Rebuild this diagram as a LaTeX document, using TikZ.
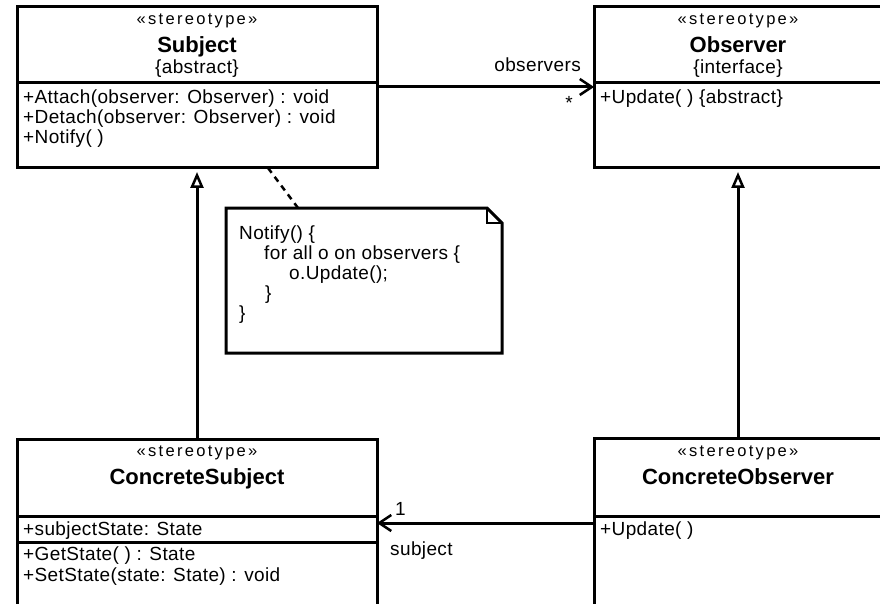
\documentclass[tikz,border=0pt]{standalone}
\usepackage{fontspec}
\setmainfont[LetterSpace=2]{Liberation Sans}
\newfontfamily\titlefont{Liberation Sans}
\newfontfamily\stereofont[LetterSpace=14]{Liberation Sans}
\usetikzlibrary{arrows.meta}

\tikzset{
  umlbox/.style={draw, line width=3pt, inner sep=0pt, outer sep=0pt, anchor=north west},
  sepline/.style={line width=3pt},
  stereo/.style={anchor=base, inner sep=0pt, font=\stereofont\fontsize{16.5}{18}\selectfont},
  cname/.style={anchor=base, inner sep=0pt, font=\titlefont\bfseries\fontsize{22}{24}\selectfont},
  member/.style={anchor=base west, inner sep=0pt, font=\fontsize{19}{20}\selectfont},
  inherit/.style={line width=3pt, -{Triangle[open, length=16pt, width=13pt, line width=2.5pt]}, shorten >=4pt},
  navig/.style={line width=3pt, -{Straight Barb[length=12pt, width=16pt, line width=2.5pt]}},
  notelink/.style={line width=2.5pt, dash pattern=on 6pt off 5pt}
}

\begin{document}
\begin{tikzpicture}[x=1pt, y=-1pt]
\useasboundingbox (0,0) rectangle (880,604);
\clip (0,0) rectangle (880,604);

\node[umlbox, minimum width=360pt, minimum height=161pt] (subject) at (17,7) {};
\node[stereo] (subjectst) at (197,25) {«stereotype»};
\node[cname] (subjectname) at (197,53) {Subject};
\node[member, anchor=base] (subjectprop) at (197,74) {\{abstract\}};
\node[member] (attach) at (23,104) {+Attach(observer: Observer) : void};
\node[member] (detach) at (23,124) {+Detach(observer: Observer) : void};
\node[member] (notify) at (23,144) {+Notify( )};

\node[umlbox, minimum width=288pt, minimum height=161pt] (observer) at (594,7) {};
\node[stereo] (observerst) at (738,25) {«stereotype»};
\node[cname] (observername) at (738,53) {Observer};
\node[member, anchor=base] (observerprop) at (738,74) {\{interface\}};
\node[member] (update) at (600,104) {+Update( ) \{abstract\}};

\node[umlbox, minimum width=360pt, minimum height=200pt] (csubject) at (17,439) {};
\node[stereo] (csubjectst) at (197,456) {«stereotype»};
\node[cname] (csubjectname) at (197,484) {ConcreteSubject};
\node[member] (state) at (23,535) {+subjectState: State};
\node[member] (getstate) at (23,560) {+GetState( ) : State};
\node[member] (setstate) at (23,581) {+SetState(state: State) : void};

\node[umlbox, minimum width=288pt, minimum height=200pt] (cobserver) at (594,438) {};
\node[stereo] (cobserverst) at (738,456) {«stereotype»};
\node[cname] (cobservername) at (738,484) {ConcreteObserver};
\node[member] (cupdate) at (600,535) {+Update( )};

\node[minimum width=276pt, minimum height=145pt, inner sep=0pt, outer sep=0pt] (note) at (364,280.5) {};
\node[member] (n1) at (239,239) {Notify() \{};
\node[member] (n2) at (264,259) {for all o on observers \{};
\node[member] (n3) at (289,279) {o.Update();};
\node[member] (n4) at (265,299) {\}};
\node[member] (n5) at (239,319) {\}};

\node[member, anchor=base east] (obslabel) at (581,72) {observers};
\node[member, anchor=base] (obsmult) at (569,110) {*};
\node[member] (subjmult) at (395,515) {1};
\node[member] (subjlabel) at (390,555) {subject};

\draw[sepline] (subject.west |- 0,83) -- (subject.east |- 0,83);
\draw[sepline] (observer.west |- 0,83) -- (observer.east |- 0,83);
\draw[sepline] (csubject.west |- 0,516) -- (csubject.east |- 0,516);
\draw[sepline] (csubject.west |- 0,542) -- (csubject.east |- 0,542);
\draw[sepline] (cobserver.west |- 0,516) -- (cobserver.east |- 0,516);

\draw[line width=3pt, line join=miter] (note.north west) -- ([xshift=-15pt]note.north east) -- ([yshift=-15pt]note.north east) -- (note.south east) -- (note.south west) -- cycle;
\draw[line width=1.2pt] ([xshift=-15pt]note.north east) |- ([yshift=-15pt]note.north east);

\draw[inherit] (csubject.north) -- (subject.south);
\draw[inherit] (cobserver.north) -- (observer.south);
\draw[navig] (subject.east |- 0,87) -- (observer.west |- 0,87);
\draw[navig] (cobserver.west |- 0,523) -- (csubject.east |- 0,523);
\draw[notelink] ([xshift=71pt]subject.south) -- ([xshift=-66pt]note.north);
\end{tikzpicture}
\end{document}
